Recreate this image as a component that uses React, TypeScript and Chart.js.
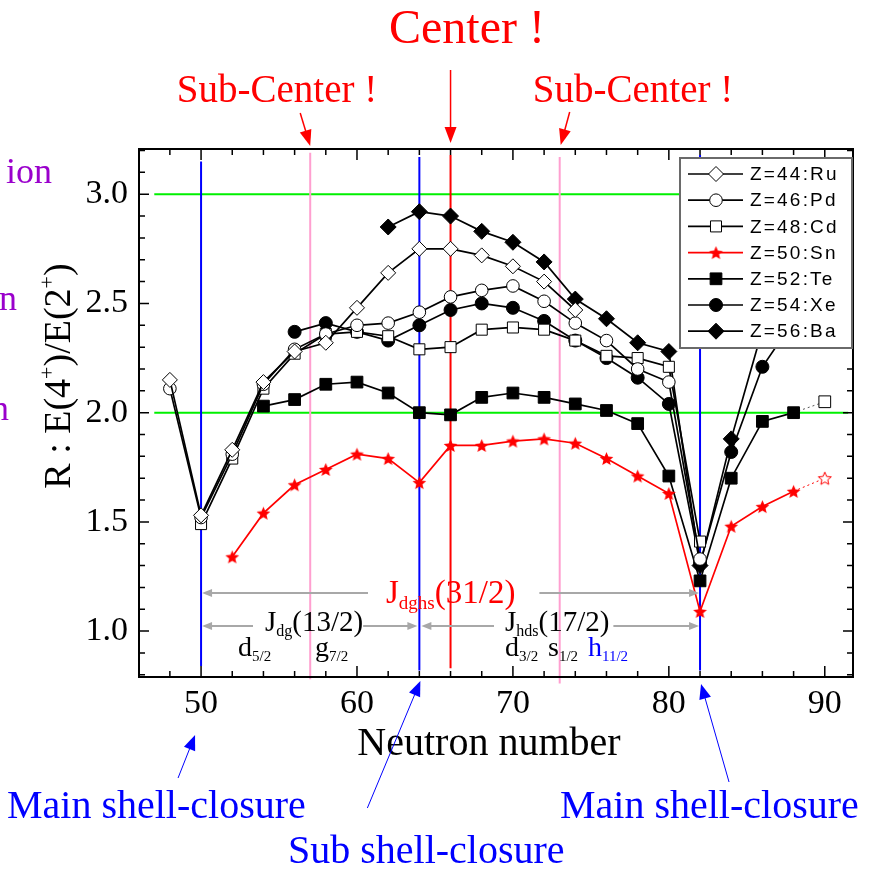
import React, { useEffect, useRef } from 'react';
import { Chart, registerables } from 'chart.js';

Chart.register(...registerables);

// R = E(4+)/E(2+) against neutron number for the even-even isotope chains
const ruN = [48, 50, 52, 54, 56, 58, 60, 62, 64, 66, 68, 70, 72, 74];
const ruR = [2.15, 1.53, 1.83, 2.14, 2.28, 2.32, 2.48, 2.64, 2.75, 2.75, 2.72, 2.67, 2.6, 2.47];

const pdN = [48, 50, 52, 54, 56, 58, 60, 62, 64, 66, 68, 70, 72, 74, 76, 78, 80, 82];
const pdR = [2.11, 1.52, 1.81, 2.13, 2.29, 2.36, 2.4, 2.41, 2.46, 2.53, 2.56, 2.58, 2.51, 2.41, 2.33, 2.2, 2.14, 1.33];

const cdN = [50, 52, 54, 56, 58, 60, 62, 64, 66, 68, 70, 72, 74, 76, 78, 80, 82];
const cdR = [1.49, 1.79, 2.11, 2.27, 2.36, 2.37, 2.35, 2.29, 2.3, 2.38, 2.39, 2.38, 2.33, 2.26, 2.25, 2.21, 1.41];

const snN = [52, 54, 56, 58, 60, 62, 64, 66, 68, 70, 72, 74, 76, 78, 80, 82, 84, 86, 88, 90];
const snR = [1.34, 1.54, 1.67, 1.74, 1.81, 1.79, 1.68, 1.85, 1.85, 1.87, 1.88, 1.86, 1.79, 1.71, 1.63, 1.09, 1.48, 1.57, 1.64, 1.7];

const teN = [54, 56, 58, 60, 62, 64, 66, 68, 70, 72, 74, 76, 78, 80, 82, 84, 86, 88, 90];
const teR = [2.03, 2.06, 2.13, 2.14, 2.09, 2.0, 1.99, 2.07, 2.09, 2.07, 2.04, 2.01, 1.95, 1.71, 1.23, 1.7, 1.96, 2.0, 2.05];

const xeN = [56, 58, 60, 62, 64, 66, 68, 70, 72, 74, 76, 78, 80, 82, 84, 86, 88];
const xeR = [2.37, 2.41, 2.37, 2.33, 2.4, 2.47, 2.5, 2.48, 2.42, 2.33, 2.25, 2.16, 2.04, 1.31, 1.82, 2.21, 2.42];

const baN = [62, 64, 66, 68, 70, 72, 74, 76, 78, 80, 82, 84, 86];
const baR = [2.85, 2.92, 2.9, 2.83, 2.78, 2.69, 2.52, 2.43, 2.32, 2.28, 1.3, 1.88, 2.38];

// points at this neutron number are estimates: open symbol, dotted link
const predictedN = 90;

const xTickValues = [50, 60, 70, 80, 90];
const yTickValues = [1.0, 1.5, 2.0, 2.5, 3.0];

// reference levels of R (vibrator 2.0, near 3.0)
const guideLevels = [2.0, 3.0];
// shell closures, sub-shell closure, centre and sub-centres
const shellClosures = [50, 82];
const subShellClosure = 64;
const centerN = 66;
const subCenters = [57, 73];

const W = 883;
const H = 869;
const AREA = { left: 139, top: 149, right: 853, bottom: 677 };
const X_MIN = 46.02;
const X_MAX = 91.81;
const Y_MIN = 0.79;
const Y_MAX = 3.207;

const SERIF = "'Liberation Serif', 'Times New Roman', serif";
const SANS = "'Liberation Sans', Arial, sans-serif";

const BLUE = '#0000ff';
const RED = '#ff0000';
const PINK = '#ff9fd0';
const GREEN = '#00f000';
const GRAY = '#a8a8a8';
const PURPLE = '#9a00cc';

type Run = { t: string; size: number; dy?: number; color?: string };

function runsWidth(ctx: CanvasRenderingContext2D, runs: Run[]) {
  let w = 0;
  for (const r of runs) {
    ctx.font = `${r.size}px ${SERIF}`;
    w += ctx.measureText(r.t).width;
  }
  return w;
}

function drawRuns(
  ctx: CanvasRenderingContext2D,
  x: number,
  y: number,
  runs: Run[],
  color: string,
  align: 'left' | 'center' = 'left'
) {
  const w = runsWidth(ctx, runs);
  let cx = align === 'center' ? x - w / 2 : x;
  ctx.textAlign = 'left';
  ctx.textBaseline = 'alphabetic';
  for (const r of runs) {
    ctx.font = `${r.size}px ${SERIF}`;
    ctx.fillStyle = r.color ?? color;
    ctx.fillText(r.t, cx, y + (r.dy ?? 0));
    cx += ctx.measureText(r.t).width;
  }
  return w;
}

function arrow(
  ctx: CanvasRenderingContext2D,
  x1: number,
  y1: number,
  x2: number,
  y2: number,
  color: string,
  width: number,
  headLen: number,
  headHalf: number
) {
  const a = Math.atan2(y2 - y1, x2 - x1);
  const c = Math.cos(a);
  const s = Math.sin(a);
  ctx.strokeStyle = color;
  ctx.fillStyle = color;
  ctx.lineWidth = width;
  ctx.beginPath();
  ctx.moveTo(x1, y1);
  ctx.lineTo(x2 - c * headLen * 0.7, y2 - s * headLen * 0.7);
  ctx.stroke();
  ctx.beginPath();
  ctx.moveTo(x2, y2);
  ctx.lineTo(x2 - c * headLen - s * headHalf, y2 - s * headLen + c * headHalf);
  ctx.lineTo(x2 - c * headLen + s * headHalf, y2 - s * headLen - c * headHalf);
  ctx.closePath();
  ctx.fill();
}

function makeStar(filled: boolean, outer: number) {
  const size = Math.ceil(outer * 2 + 4);
  const c = document.createElement('canvas');
  c.width = size;
  c.height = size;
  const g = c.getContext('2d')!;
  const cx = size / 2;
  const cy = size / 2 + outer * 0.1;
  g.beginPath();
  for (let i = 0; i < 10; i++) {
    const r = i % 2 === 0 ? outer : outer * 0.45;
    const a = -Math.PI / 2 + (i * Math.PI) / 5;
    const px = cx + r * Math.cos(a);
    const py = cy + r * Math.sin(a);
    if (i === 0) g.moveTo(px, py);
    else g.lineTo(px, py);
  }
  g.closePath();
  if (filled) {
    g.fillStyle = RED;
    g.fill();
  } else {
    g.fillStyle = '#ffffff';
    g.fill();
    g.strokeStyle = RED;
    g.lineWidth = 1;
    g.stroke();
  }
  return c;
}

type SeriesStyle = {
  label: string;
  ns: number[];
  rs: number[];
  marker: 'rectRot' | 'circle' | 'rect' | 'star';
  radius: number;
  fill: string;
  color: string;
};

const seriesStyles: SeriesStyle[] = [
  { label: 'Z=44:Ru', ns: ruN, rs: ruR, marker: 'rectRot', radius: 7.5, fill: '#ffffff', color: '#000000' },
  { label: 'Z=46:Pd', ns: pdN, rs: pdR, marker: 'circle', radius: 6.3, fill: '#ffffff', color: '#000000' },
  { label: 'Z=48:Cd', ns: cdN, rs: cdR, marker: 'rect', radius: 7.8, fill: '#ffffff', color: '#000000' },
  { label: 'Z=50:Sn', ns: snN, rs: snR, marker: 'star', radius: 7, fill: RED, color: RED },
  { label: 'Z=52:Te', ns: teN, rs: teR, marker: 'rect', radius: 8.3, fill: '#000000', color: '#000000' },
  { label: 'Z=54:Xe', ns: xeN, rs: xeR, marker: 'circle', radius: 6.5, fill: '#000000', color: '#000000' },
  { label: 'Z=56:Ba', ns: baN, rs: baR, marker: 'rectRot', radius: 8, fill: '#000000', color: '#000000' },
];

function drawLegendMarker(
  ctx: CanvasRenderingContext2D,
  s: SeriesStyle,
  star: HTMLCanvasElement,
  x: number,
  y: number
) {
  if (s.marker === 'star') {
    ctx.drawImage(star, x - star.width / 2, y - star.height / 2);
    return;
  }
  const r = s.radius;
  ctx.beginPath();
  if (s.marker === 'circle') ctx.arc(x, y, r, 0, Math.PI * 2);
  else if (s.marker === 'rect') {
    const h = r * Math.SQRT1_2;
    ctx.rect(x - h, y - h, 2 * h, 2 * h);
  } else {
    ctx.moveTo(x - r, y);
    ctx.lineTo(x, y - r);
    ctx.lineTo(x + r, y);
    ctx.lineTo(x, y + r);
    ctx.closePath();
  }
  ctx.fillStyle = s.fill;
  ctx.fill();
  ctx.strokeStyle = '#000000';
  ctx.lineWidth = 1;
  ctx.stroke();
}

export default function App() {
  const ref = useRef<HTMLCanvasElement>(null);

  useEffect(() => {
    const star = makeStar(true, 7.2);
    const openStar = makeStar(false, 6.8);

    const datasets = seriesStyles.map((s) => {
      const isPred = (i: number) => s.ns[i] === predictedN;
      return {
        label: s.label,
        data: s.ns.map((n, i) => ({ x: n, y: s.rs[i] })),
        borderColor: s.color,
        borderWidth: 1.7,
        fill: false,
        tension: 0,
        pointRadius: s.radius,
        pointBorderWidth: 1,
        pointStyle: (c: any) =>
          s.marker === 'star' ? (isPred(c.dataIndex) ? openStar : star) : s.marker,
        pointBackgroundColor: (c: any) => (isPred(c.dataIndex) ? '#ffffff' : s.fill),
        pointBorderColor: s.marker === 'star' ? s.color : '#000000',
        segment: {
          borderDash: (c: any) => (isPred(c.p1DataIndex) ? [2, 3] : undefined),
          borderWidth: (c: any) => (isPred(c.p1DataIndex) ? 1 : undefined),
          borderColor: (c: any) => (isPred(c.p1DataIndex) && s.marker !== 'star' ? '#555555' : undefined),
        },
      };
    });

    const decorations = {
      id: 'decorations',
      beforeDatasetsDraw(chart: any) {
        const { ctx, scales } = chart;
        const x = scales.x;
        const y = scales.y;
        ctx.save();
        // green reference levels
        ctx.strokeStyle = GREEN;
        ctx.lineWidth = 2;
        for (const r of guideLevels) {
          const py = y.getPixelForValue(r);
          ctx.beginPath();
          ctx.moveTo(x.getPixelForValue(47), py);
          ctx.lineTo(x.getPixelForValue(91.5), py);
          ctx.stroke();
        }
        // vertical marker lines
        const vlines = [
          { n: shellClosures[0], color: BLUE, from: 0.84, to: 3.15 },
          { n: subCenters[0], color: PINK, from: 0.78, to: 3.19 },
          { n: subShellClosure, color: BLUE, from: 0.82, to: 3.17 },
          { n: centerN, color: RED, from: 0.83, to: 3.18 },
          { n: subCenters[1], color: PINK, from: 0.76, to: 3.17 },
          { n: shellClosures[1], color: BLUE, from: 0.82, to: 3.18 },
        ];
        for (const v of vlines) {
          const px = x.getPixelForValue(v.n);
          ctx.strokeStyle = v.color;
          ctx.lineWidth = 2;
          ctx.beginPath();
          ctx.moveTo(px, y.getPixelForValue(v.to));
          ctx.lineTo(px, y.getPixelForValue(v.from));
          ctx.stroke();
        }
        ctx.restore();
      },
      afterDraw(chart: any) {
        const { ctx, scales, chartArea: a } = chart;
        const x = scales.x;
        const y = scales.y;
        ctx.save();

        // frame
        ctx.strokeStyle = '#000000';
        ctx.lineWidth = 2;
        ctx.strokeRect(a.left, a.top, a.right - a.left, a.bottom - a.top);

        // inward tick marks on all four sides
        ctx.lineWidth = 1.5;
        ctx.beginPath();
        for (let n = 48; n <= 90; n += 2) {
          const px = x.getPixelForValue(n);
          const len = n % 10 === 0 ? 11 : 6;
          ctx.moveTo(px, a.bottom);
          ctx.lineTo(px, a.bottom - len);
          ctx.moveTo(px, a.top);
          ctx.lineTo(px, a.top + len);
        }
        for (let k = 8; k <= 32; k++) {
          const r = k / 10;
          const py = y.getPixelForValue(r);
          const len = k % 5 === 0 ? 10 : 6;
          ctx.moveTo(a.left, py);
          ctx.lineTo(a.left + len, py);
          ctx.moveTo(a.right, py);
          ctx.lineTo(a.right - len, py);
        }
        ctx.stroke();

        // legend box
        const lx = 680;
        const ly = 158;
        const lw = 172;
        const lh = 190;
        ctx.fillStyle = '#ffffff';
        ctx.fillRect(lx, ly, lw, lh);
        ctx.strokeStyle = '#6a6a6a';
        ctx.lineWidth = 2;
        ctx.strokeRect(lx, ly, lw, lh);
        seriesStyles.forEach((s, i) => {
          const ry = 174 + i * 26.2;
          ctx.strokeStyle = s.color;
          ctx.lineWidth = 1.7;
          ctx.beginPath();
          ctx.moveTo(688, ry);
          ctx.lineTo(743, ry);
          ctx.stroke();
          drawLegendMarker(ctx, s, star, 716, ry);
          ctx.font = `19px ${SANS}`;
          (ctx as any).letterSpacing = '2.2px';
          ctx.fillStyle = '#000000';
          ctx.textAlign = 'left';
          ctx.textBaseline = 'middle';
          ctx.fillText(s.label, 750, ry + 1);
          (ctx as any).letterSpacing = '0px';
        });

        // axis titles
        drawRuns(ctx, 489, 755, [{ t: 'Neutron number', size: 40 }], '#000000', 'center');
        ctx.save();
        ctx.translate(70, 376);
        ctx.rotate(-Math.PI / 2);
        drawRuns(
          ctx,
          0,
          0,
          [
            { t: 'R : E(4', size: 38 },
            { t: '+', size: 22, dy: -16 },
            { t: ')/E(2', size: 38 },
            { t: '+', size: 22, dy: -16 },
            { t: ')', size: 38 },
          ],
          '#000000',
          'center'
        );
        ctx.restore();

        // regime names running off the left edge
        ctx.save();
        ctx.beginPath();
        ctx.rect(6, 0, 200, H);
        ctx.clip();
        ctx.font = `36px ${SERIF}`;
        ctx.fillStyle = PURPLE;
        ctx.textAlign = 'right';
        ctx.textBaseline = 'alphabetic';
        ctx.fillText('Rotation', 52, 183);
        ctx.restore();
        ctx.font = `36px ${SERIF}`;
        ctx.fillStyle = PURPLE;
        ctx.textAlign = 'right';
        ctx.textBaseline = 'alphabetic';
        ctx.fillText('Transition', 17, 310);
        ctx.fillText('Vibration', 9, 420);

        // centre / sub-centre labels with arrows
        drawRuns(ctx, 467, 43, [{ t: 'Center !', size: 48 }], RED, 'center');
        drawRuns(ctx, 277, 102, [{ t: 'Sub-Center !', size: 39 }], RED, 'center');
        drawRuns(ctx, 633, 102, [{ t: 'Sub-Center !', size: 39 }], RED, 'center');
        const cx = x.getPixelForValue(centerN);
        arrow(ctx, cx, 70, cx, 143, RED, 1.5, 16, 6);
        const s1 = x.getPixelForValue(subCenters[0]);
        const s2 = x.getPixelForValue(subCenters[1]);
        arrow(ctx, s1 - 10, 113, s1, 146, RED, 1.5, 16, 6);
        arrow(ctx, s2 + 10, 112, s2 + 1, 145, RED, 1.5, 16, 6);

        // shell-closure labels with arrows
        drawRuns(ctx, 7, 818, [{ t: 'Main shell-closure', size: 40 }], BLUE);
        drawRuns(ctx, 560, 818, [{ t: 'Main shell-closure', size: 40 }], BLUE);
        drawRuns(ctx, 288, 863, [{ t: 'Sub shell-closure', size: 40 }], BLUE);
        const m1 = x.getPixelForValue(shellClosures[0]);
        const m2 = x.getPixelForValue(shellClosures[1]);
        const sb = x.getPixelForValue(subShellClosure);
        arrow(ctx, m1 - 23, 778, m1 - 6, 735, BLUE, 1, 15, 6);
        arrow(ctx, sb - 52, 808, sb + 1, 681, BLUE, 1, 15, 6);
        arrow(ctx, m2 + 29, 782, m2 + 1, 684, BLUE, 1, 15, 6);

        // angular-momentum spans
        const row1 = 593;
        const row2 = 626;
        const t1x = 386;
        const t1w = drawRuns(
          ctx,
          t1x,
          row1 + 10,
          [
            { t: 'J', size: 33 },
            { t: 'dghs', size: 19, dy: 6 },
            { t: '(31/2)', size: 33 },
          ],
          RED
        );
        arrow(ctx, t1x - 18, row1, m1 + 1, row1, GRAY, 2, 10, 4);
        arrow(ctx, t1x + t1w + 24, row1, m2 - 1, row1, GRAY, 2, 10, 4);

        const t2x = 265;
        const t2w = drawRuns(
          ctx,
          t2x,
          row2 + 5,
          [
            { t: 'J', size: 29 },
            { t: 'dg', size: 16, dy: 5 },
            { t: '(13/2)', size: 29 },
          ],
          '#000000'
        );
        arrow(ctx, t2x - 12, row2, m1 + 1, row2, GRAY, 2, 10, 4);
        arrow(ctx, t2x + t2w, row2, sb - 2, row2, GRAY, 2, 10, 4);

        const t3x = 505;
        const t3w = drawRuns(
          ctx,
          t3x,
          row2 + 5,
          [
            { t: 'J', size: 29 },
            { t: 'hds', size: 16, dy: 5 },
            { t: '(17/2)', size: 29 },
          ],
          '#000000'
        );
        arrow(ctx, t3x - 11, row2, sb + 2, row2, GRAY, 2, 10, 4);
        arrow(ctx, t3x + t3w + 4, row2, m2 - 1, row2, GRAY, 2, 10, 4);

        // single-particle orbitals
        const orb = (px: number, l: string, sub: string, color: string) =>
          drawRuns(ctx, px, 656, [{ t: l, size: 28 }, { t: sub, size: 15, dy: 5 }], color);
        orb(238, 'd', '5/2', '#000000');
        orb(315, 'g', '7/2', '#000000');
        orb(505, 'd', '3/2', '#000000');
        orb(548, 's', '1/2', '#000000');
        orb(588, 'h', '11/2', BLUE);

        ctx.restore();
      },
    };

    const chart = new Chart(ref.current!, {
      type: 'line',
      data: { datasets: datasets as any },
      options: {
        responsive: false,
        animation: false,
        events: [],
        devicePixelRatio: 1,
        layout: { padding: { left: 0, top: AREA.top, right: W - AREA.right, bottom: 0 } },
        plugins: {
          legend: { display: false },
          tooltip: { enabled: false },
          title: { display: false },
        },
        scales: {
          x: {
            type: 'linear',
            min: X_MIN,
            max: X_MAX,
            grid: { display: false, drawTicks: false },
            border: { display: false },
            afterBuildTicks: (s: any) => {
              s.ticks = xTickValues.map((v) => ({ value: v }));
            },
            afterFit: (s: any) => {
              s.height = H - AREA.bottom;
            },
            ticks: {
              autoSkip: false,
              maxRotation: 0,
              padding: 7,
              color: '#000000',
              font: { family: SERIF, size: 34 },
              callback: (v: any) => String(v),
            },
          },
          y: {
            type: 'linear',
            min: Y_MIN,
            max: Y_MAX,
            grid: { display: false, drawTicks: false },
            border: { display: false },
            afterBuildTicks: (s: any) => {
              s.ticks = yTickValues.map((v) => ({ value: v }));
            },
            afterFit: (s: any) => {
              s.width = AREA.left;
            },
            ticks: {
              padding: 11,
              color: '#000000',
              font: { family: SERIF, size: 34 },
              callback: (v: any) => Number(v).toFixed(1),
            },
          },
        },
      },
      plugins: [decorations],
    } as any);

    return () => chart.destroy();
  }, []);

  return (
    <div style={{ position: 'fixed', left: 0, top: 0, width: W, height: H, background: '#ffffff' }}>
      <canvas ref={ref} width={W} height={H} style={{ display: 'block', width: W, height: H }} />
    </div>
  );
}
